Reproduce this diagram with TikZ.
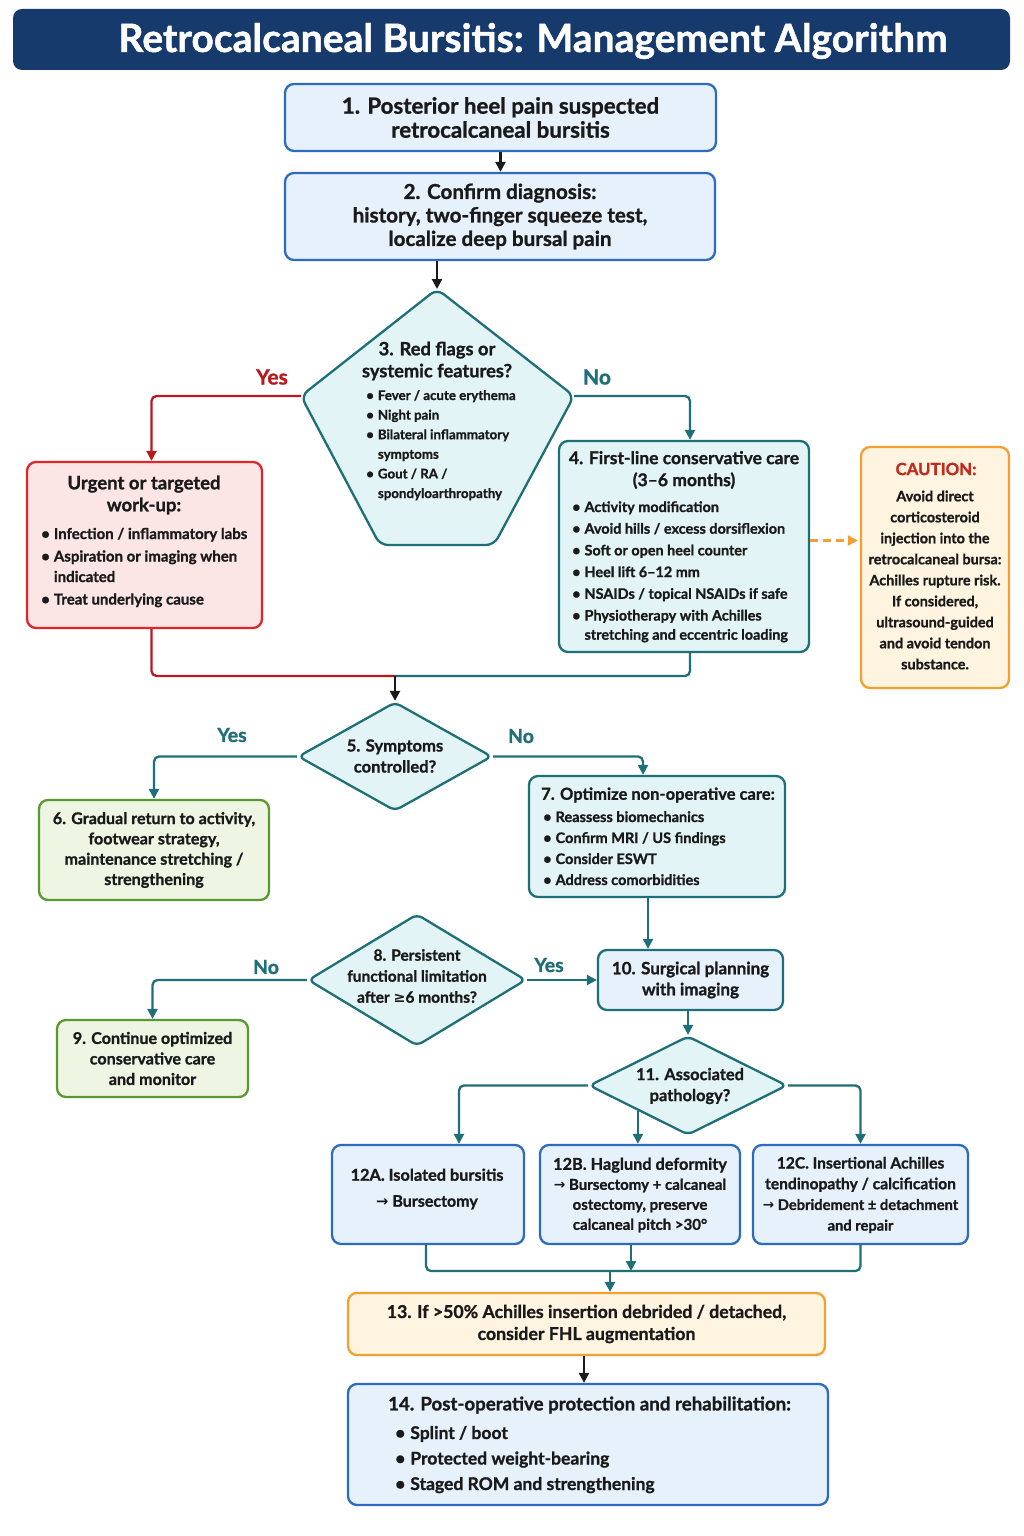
\documentclass[tikz,border=0pt]{standalone}
\usepackage{fontspec}
\setmainfont{Lato}[BoldFeatures={FakeBold=1.1}]
\newfontfamily\symf{DejaVu Sans}[Scale=0.92]
\usetikzlibrary{arrows.meta,shapes.geometric}
\definecolor{navy}{HTML}{163A6C}
\definecolor{blueB}{HTML}{2C6BC0}
\definecolor{blueF}{HTML}{E6F1FC}
\definecolor{tealB}{HTML}{1F6F78}
\definecolor{tealF}{HTML}{E2F4F6}
\definecolor{redB}{HTML}{E0252B}
\definecolor{redF}{HTML}{FCE5E5}
\definecolor{redL}{HTML}{B8191E}
\definecolor{greenB}{HTML}{5A9832}
\definecolor{greenF}{HTML}{EEF6E3}
\definecolor{orangeB}{HTML}{F4A030}
\definecolor{orangeF}{HTML}{FFF4DF}
\definecolor{caut}{HTML}{C22A1E}
\definecolor{ink}{HTML}{1A1A1A}
\newcommand{\setfs}[2]{\fontsize{#1}{#2}\selectfont}
\newcommand{\rarr}{{\symf →}}
\tikzset{
  shp/.style={rounded corners=9pt, line width=2.3pt, text=ink, align=center, inner sep=0pt},
  bluebox/.style={shp, draw=blueB, fill=blueF},
  tealbox/.style={shp, draw=tealB, fill=tealF},
  redbox/.style={shp, draw=redB, fill=redF},
  greenbox/.style={shp, draw=greenB, fill=greenF},
  orangebox/.style={shp, draw=orangeB, fill=orangeF},
  dia/.style={shape=diamond, rounded corners=6pt, line width=2.3pt, draw=tealB, fill=tealF, inner sep=0pt},
  txt/.style={inner sep=0pt, text=ink, align=center},
  lab/.style={inner sep=0pt, font=\setfs{21}{24}\bfseries},
  conn/.style={line width=2.3pt, rounded corners=5pt},
  tip/.style={-{Triangle[length=10pt,width=10pt]}},
  blkarr/.style={conn, tip, draw=ink},
  tealarr/.style={conn, tip, draw=tealB},
  tealline/.style={conn, draw=tealB},
  redarr/.style={conn, tip, draw=redL},
  redline/.style={conn, draw=redL},
  orgarr/.style={line width=2.3pt, dashed, dash pattern=on 8pt off 5pt, draw=orangeB, -{Triangle[length=10pt,width=10pt]}},
}
\begin{document}
\begin{tikzpicture}[x=1pt,y=-1pt]
\useasboundingbox[fill=white] (0,0) rectangle (1024,1536);

% title
\node[shp, draw=none, fill=navy, minimum width=997, minimum height=61] (title) at (511.5,39.5) {};
\node[inner sep=0pt, text=white, font=\setfs{39}{42}\bfseries] (titletext) at (533,41) {Retrocalcaneal Bursitis: Management Algorithm};

% 1 and 2
\node[bluebox, minimum width=431, minimum height=67, font=\setfs{22.3}{24}\bfseries] (b1) at (500.5,117.5) {1. Posterior heel pain suspected\\retrocalcaneal bursitis};
\node[bluebox, minimum width=430, minimum height=87, font=\setfs{20.6}{23.5}\bfseries] (b2) at (500,216.5) {2. Confirm diagnosis:\\history, two-finger squeeze test,\\localize deep bursal pain};

% 3 pentagon
\coordinate (p3t) at (437,289);
\coordinate (p3r) at (574,396);
\coordinate (p3br) at (494,545);
\coordinate (p3bl) at (380,545);
\coordinate (p3l) at (301,396);
\draw[line width=2.3pt, draw=tealB, fill=tealF, rounded corners=8pt] (p3t) -- (p3r) -- (p3br) -- (p3bl) -- (p3l) -- cycle;
\node[txt, font=\setfs{18.3}{22}\bfseries] (t3) at (437,361) {3. Red flags or\\systemic features?};
\node[txt, anchor=base west, font=\setfs{13.3}{19.6}\bfseries] (l3) at (366,400) {\begin{tabular}[t]{@{}l@{\hspace{4pt}}l@{}}\textbullet & Fever / acute erythema\\ \textbullet & Night pain\\ \textbullet & Bilateral inflammatory\\ & symptoms\\ \textbullet & Gout / RA /\\ & spondyloarthropathy\end{tabular}};

% red box
\node[redbox, minimum width=235, minimum height=166] (rb) at (144.5,545) {};
\node[txt, font=\setfs{18.5}{22}\bfseries] (trb) at (144,495) {Urgent or targeted\\work-up:};
\node[txt, anchor=base west, font=\setfs{15}{22.5}\bfseries] (lrb) at (41,539) {\begin{tabular}[t]{@{}l@{\hspace{4pt}}l@{}}\textbullet & Infection / inflammatory labs\\ \textbullet & Aspiration or imaging when\\[-2pt] & indicated\\ \textbullet & Treat underlying cause\end{tabular}};

% 4
\node[tealbox, minimum width=250, minimum height=211] (b4) at (684,546.5) {};
\node[txt, font=\setfs{17.5}{22}\bfseries] (t4) at (684,470) {4. First-line conservative care\\(3--6 months)};
\node[txt, anchor=base west, font=\setfs{14.4}{21.7}\bfseries] (l4) at (572,512) {\begin{tabular}[t]{@{}l@{\hspace{4pt}}l@{}}\textbullet & Activity modification\\ \textbullet & Avoid hills / excess dorsiflexion\\ \textbullet & Soft or open heel counter\\ \textbullet & Heel lift 6--12 mm\\ \textbullet & NSAIDs / topical NSAIDs if safe\\ \textbullet & Physiotherapy with Achilles\\[-2.5pt] & stretching and eccentric loading\end{tabular}};

% caution
\node[orangebox, minimum width=148, minimum height=241] (caution) at (935,567.5) {};
\node[txt, text=caut, font=\setfs{16.8}{20}\bfseries] (ctitle) at (936,469) {CAUTION:};
\node[txt, font=\setfs{14.4}{21}\bfseries] (cbody) at (935,580) {Avoid direct\\corticosteroid\\injection into the\\retrocalcaneal bursa:\\Achilles rupture risk.\\If considered,\\ultrasound-guided\\and avoid tendon\\substance.};

% 5
\node[dia, minimum width=194, minimum height=109] (d5) at (395,756.5) {};
\node[txt, font=\setfs{16.6}{21}\bfseries] (t5) at (395,756) {5. Symptoms\\controlled?};

% 6, 7
\node[greenbox, minimum width=230, minimum height=100, font=\setfs{16.1}{20.3}\bfseries] (b6) at (154,850) {6. Gradual return to activity,\\footwear strategy,\\maintenance stretching /\\strengthening};
\node[tealbox, minimum width=256, minimum height=121] (b7) at (657,836.5) {};
\node[txt, font=\setfs{16.5}{20}\bfseries] (t7) at (658,795) {7. Optimize non-operative care:};
\node[txt, anchor=base west, font=\setfs{14.5}{21}\bfseries] (l7) at (543,822) {\begin{tabular}[t]{@{}l@{\hspace{4pt}}l@{}}\textbullet & Reassess biomechanics\\ \textbullet & Confirm MRI / US findings\\ \textbullet & Consider ESWT\\ \textbullet & Address comorbidities\end{tabular}};

% 8, 9, 10
\node[dia, minimum width=218, minimum height=132] (d8) at (417,980) {};
\node[txt, font=\setfs{15.5}{21}\bfseries] (t8) at (417,976) {8. Persistent\\functional limitation\\after {\symf ≥}6 months?};
\node[greenbox, minimum width=191, minimum height=77, font=\setfs{16.1}{20.5}\bfseries] (b9) at (152.5,1058.5) {9. Continue optimized\\conservative care\\and monitor};
\node[tealbox, fill=blueF, minimum width=185, minimum height=60, font=\setfs{17}{21}\bfseries] (b10) at (690.5,980) {10. Surgical planning\\with imaging};

% 11
\node[dia, minimum width=198, minimum height=99] (d11) at (688,1085.5) {};
\node[txt, font=\setfs{16.4}{21}\bfseries] (t11) at (690,1086) {11. Associated\\pathology?};

% 12
\node[bluebox, minimum width=192, minimum height=99] (b12a) at (428,1194.5) {};
\node[txt, font=\setfs{16.3}{26}\bfseries] (t12a) at (427,1189) {12A. Isolated bursitis\\{\setfs{16}{26}\rarr\ Bursectomy}};
\node[bluebox, minimum width=200, minimum height=99] (b12b) at (640,1194.5) {};
\node[txt, font=\setfs{15}{20}\bfseries] (t12b) at (640,1195) {{\setfs{16.3}{20}12B. Haglund deformity}\\\rarr\ Bursectomy + calcaneal\\ostectomy, preserve\\calcaneal pitch >30°};
\node[bluebox, minimum width=215, minimum height=99] (b12c) at (860.5,1194.5) {};
\node[txt, font=\setfs{15.6}{20.7}\bfseries] (t12c) at (860.5,1195) {12C. Insertional Achilles\\tendinopathy / calcification\\{\setfs{14.7}{20.7}\rarr\ Debridement ± detachment}\\{\setfs{14.7}{20.7}and repair}};

% 13, 14
\node[orangebox, minimum width=477, minimum height=62, font=\setfs{17.7}{22}\bfseries] (b13) at (586.5,1324) {13. If >50\% Achilles insertion debrided / detached,\\consider FHL augmentation};
\node[bluebox, minimum width=480, minimum height=121] (b14) at (588,1444.5) {};
\node[txt, font=\setfs{18.7}{21}\bfseries] (t14) at (589.5,1405) {14. Post-operative protection and rehabilitation:};
\node[txt, anchor=base west, font=\setfs{17.5}{25.5}\bfseries] (l14) at (395,1439) {\begin{tabular}[t]{@{}l@{\hspace{5pt}}l@{}}\textbullet & Splint / boot\\ \textbullet & Protected weight-bearing\\ \textbullet & Staged ROM and strengthening\end{tabular}};

% connectors
\draw[blkarr] (b1.south) -- (b1.south |- b2.north);
\draw[blkarr] (p3t |- b2.south) -- (p3t);
\draw[redarr] (p3l) -| ([xshift=7pt]rb.north);
\node[lab, text=redL] (yes3) at (272,377) {Yes};
\draw[tealarr] (p3r) -| ([xshift=6pt]b4.north);
\node[lab, text=tealB] (no3) at (597,377) {No};
\draw[orgarr, shorten >=2pt] ([yshift=6pt]b4.east) -- ([yshift=6pt]b4.east -| caution.west);
\coordinate (m5) at (395,676);
\draw[redline] ([xshift=7pt]rb.south) |- (m5);
\draw[tealline] ([xshift=6pt]b4.south) |- (m5);
\draw[blkarr] (m5) -- (d5.north);
\draw[tealarr] (d5.west) -| (b6.north);
\node[lab, text=tealB, font=\setfs{19.5}{22}\bfseries] (yes5) at (232,735) {Yes};
\draw[tealarr] (d5.east) -| ([xshift=-14pt]b7.north);
\node[lab, text=tealB, font=\setfs{19.5}{22}\bfseries] (no5) at (521,736) {No};
\draw[tealarr] ([xshift=-9pt]b7.south) -- ([xshift=-9pt]b7.south |- b10.north);
\draw[tealarr] (d8.west) -| (b9.north);
\node[lab, text=tealB, font=\setfs{19.5}{22}\bfseries] (no8) at (266,967) {No};
\draw[tealarr] (d8.east) -- (b10.west);
\node[lab, text=tealB, font=\setfs{19.5}{22}\bfseries] (yes8) at (549,965) {Yes};
\draw[tealarr] (b10.south -| d11.north) -- (d11.north);
\draw[tealarr] (d11.west) -| ([xshift=31pt]b12a.north);
\draw[tealarr] (d11.east) -| (b12c.north);
\draw[tealarr] (d11.south west) -- (d11.south west |- b12b.north);
\coordinate (m13) at (610,1271);
\draw[tealline] ([xshift=-2pt]b12a.south) |- (b12c.south |- m13) -- (b12c.south);
\draw[tealarr] ([xshift=-9pt]b12b.south) -- ([xshift=-9pt]b12b.south |- m13);
\draw[tealarr] (m13) -- (m13 |- b13.north);
\draw[blkarr] ([xshift=-2.5pt]b13.south) -- ([xshift=-2.5pt]b13.south |- b14.north);
\end{tikzpicture}
\end{document}
